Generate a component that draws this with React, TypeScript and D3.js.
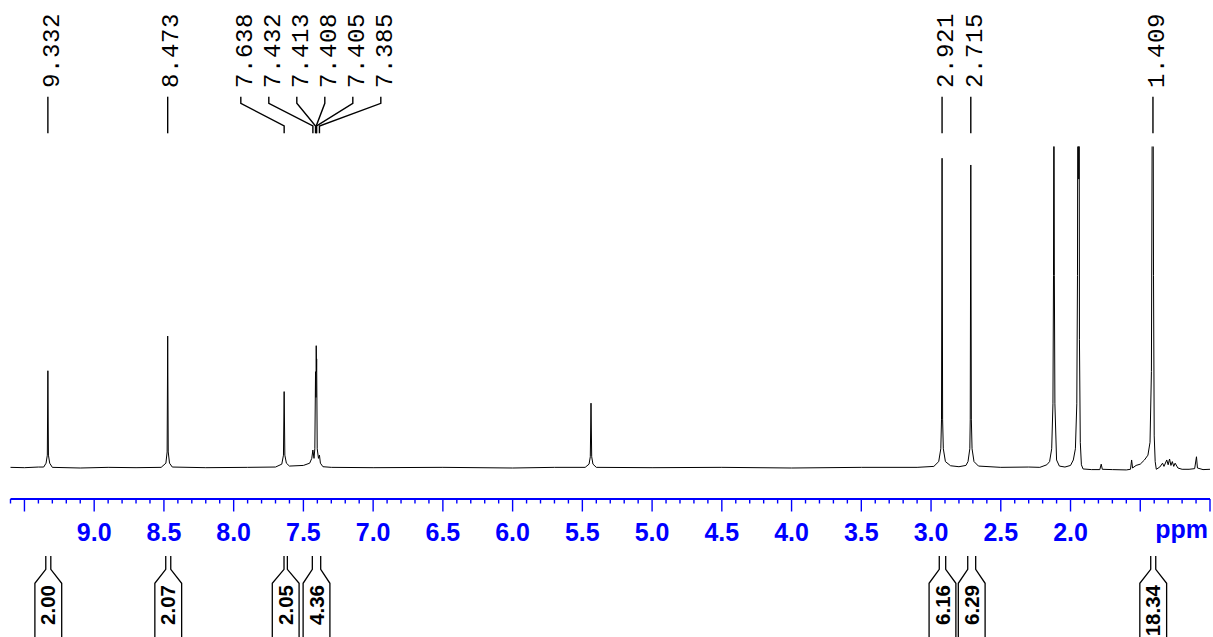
import React from "react";
import * as d3 from "d3";

// ---- data ----
// spectrum vertices: [ppm, intensity] (intensity 100 = clip level of the plot)
const SPECTRUM: [number, number][] = [
  [9.6, 0.2], [9.5, 0.1], [9.4, 0.3], [9.362, 0.3], [9.345, 1.5], [9.336, 4], [9.332, 30.3], [9.328, 4], [9.319, 1.5], [9.3, 0.2],
  [9.1, 0.0], [8.9, 0.2], [8.7, 0.1], [8.52, 0.2], [8.486, 1.5], [8.477, 5], [8.473, 41.1], [8.469, 5], [8.46, 1.5], [8.44, 0.3],
  [8.2, 0.1], [7.9, 0.2], [7.7, 0.3], [7.655, 1.2], [7.643, 4], [7.638, 23.8], [7.633, 4], [7.622, 1.5], [7.6, 0.6],
  [7.5, 0.8], [7.455, 1.5], [7.44, 3], [7.432, 5.6], [7.424, 3], [7.418, 6], [7.413, 30], [7.41, 22], [7.408, 38.1], [7.406, 30],
  [7.405, 34], [7.401, 6], [7.392, 3], [7.385, 4.0], [7.378, 1.5], [7.36, 0.4], [7.3, 0.2],
  [7.0, 0.1], [6.5, 0.2], [6.0, 0.0], [5.7, 0.2], [5.48, 0.2], [5.452, 1.2], [5.443, 3.5], [5.438, 20.2], [5.433, 3.5], [5.424, 1.2],
  [5.4, 0.2], [5.0, 0.1], [4.5, 0.2], [4.0, 0.0], [3.5, 0.2], [3.1, 0.2], [2.98, 0.5], [2.945, 2], [2.93, 6], [2.925, 15],
  [2.921, 96.5], [2.917, 15], [2.912, 6], [2.897, 2], [2.86, 0.7], [2.8, 0.4], [2.75, 0.8], [2.735, 2], [2.722, 6], [2.719, 15],
  [2.715, 94.4], [2.711, 15], [2.706, 6], [2.692, 2], [2.66, 0.6], [2.5, 0.2], [2.3, 0.3], [2.22, 0.2], [2.17, 1], [2.15, 2],
  [2.135, 6], [2.126, 20], [2.122, 60], [2.119, 140], [2.116, 60], [2.112, 20], [2.1, 2.5], [2.08, 0.6], [2.04, 0.3], [2.0, 0.8],
  [1.98, 2.5], [1.965, 6], [1.955, 20], [1.95, 60], [1.947, 150], [1.945, 120], [1.943, 160], [1.941, 90], [1.939, 150], [1.936, 40],
  [1.93, 8], [1.922, 1], [1.91, -0.3], [1.85, -0.5], [1.79, -0.5], [1.78, 1.2], [1.772, -0.4], [1.7, -0.5], [1.6, -0.6], [1.57, -0.4],
  [1.562, 2.5], [1.555, 0], [1.53, 0.8], [1.5, 1.2], [1.47, 2.5], [1.445, 4], [1.43, 8], [1.42, 30], [1.413, 130], [1.409, 150],
  [1.405, 60], [1.4, 10], [1.393, 2], [1.385, -0.4], [1.36, 0.3], [1.34, 1.5], [1.33, 0.5], [1.31, 2.5], [1.3, 1], [1.29, 2.8],
  [1.28, 0.8], [1.27, 2], [1.26, 0.5], [1.25, 1.5], [1.23, 0], [1.2, -0.4], [1.15, -0.4], [1.11, -0.2], [1.097, 3.5], [1.09, 0.0],
  [1.05, -0.5], [1.0, -0.4],
];

const PEAK_LABELS = ["9.332", "8.473", "7.638", "7.432", "7.413", "7.408", "7.405", "7.385", "2.921", "2.715", "1.409"];

const TICK_LABELS = [9.0, 8.5, 8.0, 7.5, 7.0, 6.5, 6.0, 5.5, 5.0, 4.5, 4.0, 3.5, 3.0, 2.5, 2.0];
const UNIT_LABEL = "ppm";

const INTEGRAL_VALUES = ["2.00", "2.07", "2.05", "4.36", "6.16", "6.29", "18.34"];
const INTEGRAL_FROM = [9.347, 8.487, 7.639, 7.436, 2.941, 2.737, 1.425];
const INTEGRAL_TO = [9.311, 8.451, 7.615, 7.376, 2.895, 2.68, 1.389];

// ---- layout ----
const W = 1213;
const H = 637;
const X0 = 10.5;
const X1 = 1210;
const BASE_Y = 468;
const CLIP_Y = 147;
const AXIS_Y = 499;

function spreadLabels(xs: number[], gap: number): number[] {
  const order = xs.map((x, i) => ({ x, i })).sort((a, b) => a.x - b.x);
  let clusters = order.map((o) => ({ items: [o], center: o.x }));
  let merged = true;
  while (merged) {
    merged = false;
    for (let k = 0; k < clusters.length - 1; k++) {
      const a = clusters[k];
      const b = clusters[k + 1];
      const aEnd = a.center + ((a.items.length - 1) / 2) * gap;
      const bStart = b.center - ((b.items.length - 1) / 2) * gap;
      if (bStart - aEnd < gap - 1e-9) {
        const items = a.items.concat(b.items);
        const center = d3.mean(items, (d) => d.x) as number;
        clusters.splice(k, 2, { items, center });
        merged = true;
        break;
      }
    }
  }
  const out = new Array(xs.length).fill(0);
  clusters.forEach((c) => {
    c.items.forEach((it, j) => {
      out[it.i] = c.center + (j - (c.items.length - 1) / 2) * gap;
    });
  });
  return out;
}

export default function App() {
  const x = d3.scaleLinear().domain([9.6, 1.0]).range([X0, X1]);
  const y = d3.scaleLinear().domain([0, 100]).range([BASE_Y, CLIP_Y]);

  const line = d3
    .line<[number, number]>()
    .x((d) => x(d[0]))
    .y((d) => y(d[1]))
    .curve(d3.curveLinear);

  const peakX = PEAK_LABELS.map((s) => x(parseFloat(s)));
  const labelX = spreadLabels(peakX, 28);

  const minorTicks = d3.range(10, 97).map((i) => i / 10);
  const isMajor = (v: number) => Math.abs(v * 2 - Math.round(v * 2)) < 1e-6;

  const fmt = d3.format(".1f");
  const blue = "#0000ff";

  const halfBox = 13.4;

  return (
    <svg
      width={W}
      height={H}
      style={{ position: "absolute", left: 0, top: 0, background: "#fff" }}
    >
      <defs>
        <clipPath id="specClip">
          <rect x={0} y={CLIP_Y - 0.5} width={W} height={AXIS_Y - CLIP_Y - 10} />
        </clipPath>
      </defs>
      <rect x={0} y={0} width={W} height={H} fill="#fff" />

      {/* spectrum */}
      <path
        d={line(SPECTRUM) || ""}
        fill="none"
        stroke="#000"
        strokeWidth={1}
        clipPath="url(#specClip)"
      />

      {/* peak labels */}
      {PEAK_LABELS.map((lab, i) => {
        const px = peakX[i];
        const lx = labelX[i];
        const d = `M${lx},96.7 L${lx},103.3 L${px},126 L${px},133.3`;
        return (
          <g key={"pl" + i}>
            <path d={d} fill="none" stroke="#000" strokeWidth={1.4} />
            <text
              transform={`translate(${lx + 10.8},88) rotate(-90)`}
              fontFamily="'Liberation Mono', 'Courier New', monospace"
              fontSize={24}
              letterSpacing={0.6}
              fill="#000"
              textAnchor="start"
            >
              {lab}
            </text>
          </g>
        );
      })}

      {/* axis */}
      <line x1={X0} x2={X1} y1={AXIS_Y} y2={AXIS_Y} stroke={blue} strokeWidth={2} />
      {minorTicks.map((v) => (
        <line
          key={"t" + v}
          x1={x(v)}
          x2={x(v)}
          y1={AXIS_Y}
          y2={isMajor(v) ? AXIS_Y + 12.5 : AXIS_Y + 4.5}
          stroke={blue}
          strokeWidth={1.4}
        />
      ))}
      {TICK_LABELS.map((v) => (
        <text
          key={"tl" + v}
          x={x(v)}
          y={540.5}
          textAnchor="middle"
          fontFamily="'Liberation Sans', Arial, sans-serif"
          fontWeight="bold"
          fontSize={25}
          fill={blue}
        >
          {fmt(v)}
        </text>
      ))}
      <text
        x={1181.7}
        y={538}
        textAnchor="middle"
        fontFamily="'Liberation Sans', Arial, sans-serif"
        fontWeight="bold"
        fontSize={25}
        fill={blue}
      >
        {UNIT_LABEL}
      </text>

      {/* integrals */}
      {INTEGRAL_VALUES.map((val, i) => {
        const a = x(INTEGRAL_FROM[i]);
        const b = x(INTEGRAL_TO[i]);
        const c = (a + b) / 2;
        const L = c - halfBox;
        const R = c + halfBox;
        const d =
          `M${a},556 L${a},569.3 L${L},583.3 L${L},${H + 5} ` +
          `M${b},556 L${b},569.3 L${R},583.3 L${R},${H + 5}`;
        return (
          <g key={"in" + i}>
            <path d={d} fill="none" stroke="#000" strokeWidth={1.3} />
            <text
              transform={`translate(${c + 7.2},585) rotate(-90)`}
              textAnchor="end"
              fontFamily="'Liberation Sans', Arial, sans-serif"
              fontWeight="bold"
              fontSize={20.5}
              fill="#000"
            >
              {val}
            </text>
          </g>
        );
      })}
    </svg>
  );
}
